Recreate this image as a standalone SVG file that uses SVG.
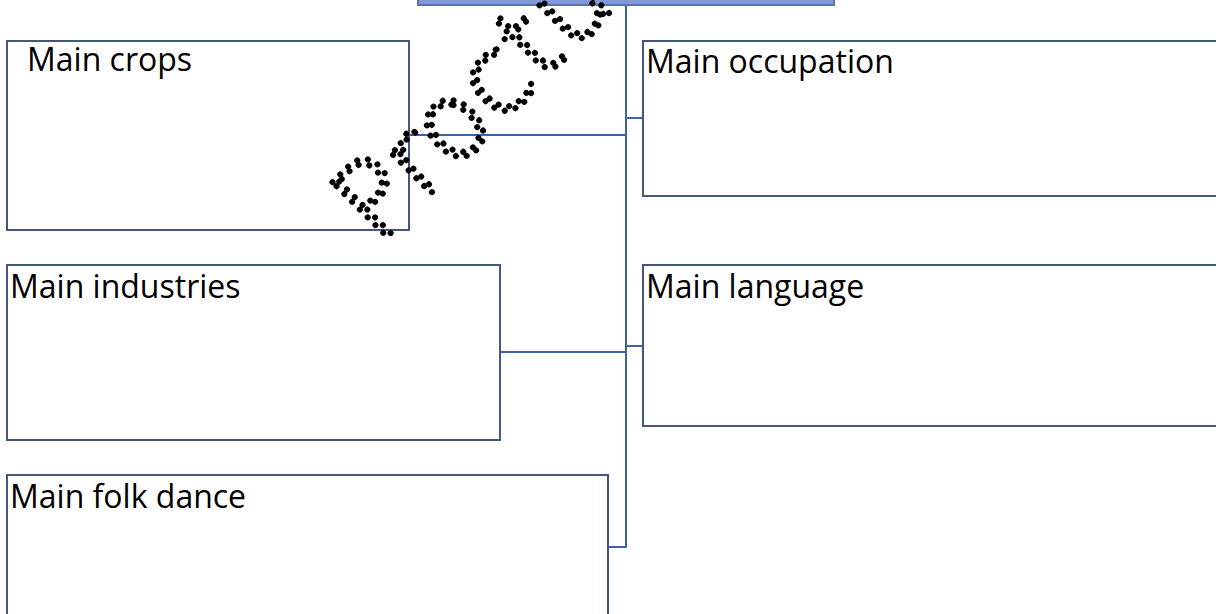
<svg xmlns="http://www.w3.org/2000/svg" width="1216" height="614" viewBox="0 0 1216 614">
<style>
.box{fill:#fff;stroke:#44587c;stroke-width:2}
.lbl{font-family:"Open Sans","Liberation Sans",sans-serif;font-size:32px;fill:#000}
.con{fill:none;stroke:#3c62a8;stroke-width:2}
.wm{font-family:"DejaVu Sans",sans-serif;font-weight:200;font-size:106px;letter-spacing:1px;fill:none;stroke:#000;stroke-width:6;stroke-linecap:round;stroke-dasharray:0 11}
</style>
<rect width="1216" height="614" fill="#fff"/>
<g id="top">
<rect x="418" y="-20" width="416" height="25" fill="#8298d2" stroke="#5a74b0" stroke-width="2"/>
</g>
<g id="connectors">
<path class="con" d="M626 5V547H608"/>
<path class="con" d="M626 135H410"/>
<path class="con" d="M626 118H643"/>
<path class="con" d="M626 352H500"/>
<path class="con" d="M626 346H643"/>
</g>
<g id="crops"><rect class="box" x="7" y="41" width="402" height="189"/><text class="lbl" x="27" y="71">Main crops</text></g>
<g id="occupation"><rect class="box" x="643" y="41" width="580" height="155"/><text class="lbl" x="646" y="73">Main occupation</text></g>
<g id="industries"><rect class="box" x="7" y="265" width="493" height="175"/><text class="lbl" x="10" y="298">Main industries</text></g>
<g id="language"><rect class="box" x="643" y="265" width="580" height="161"/><text class="lbl" x="646" y="298">Main language</text></g>
<g id="folk"><rect class="box" x="7" y="475" width="601" height="150"/><text class="lbl" x="10" y="508">Main folk dance</text></g>
<g id="watermark"><text class="wm" transform="translate(378,246) rotate(-45)">Proctur</text></g>
</svg>
